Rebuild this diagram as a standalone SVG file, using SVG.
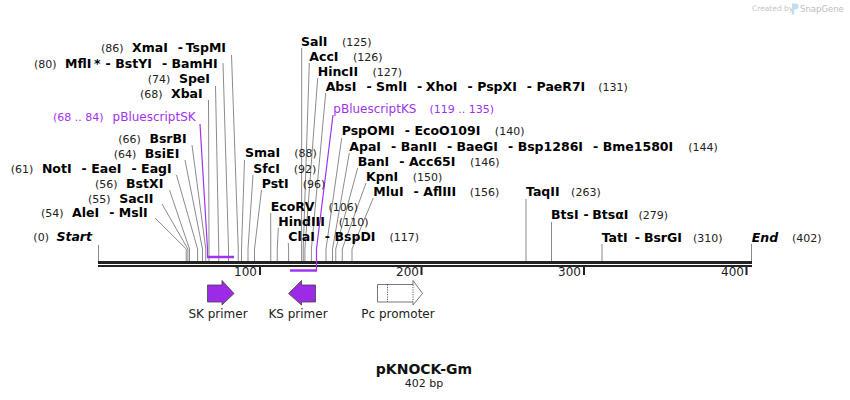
<svg xmlns="http://www.w3.org/2000/svg" width="850" height="400" viewBox="0 0 850 400">
<style>
text{font-family:"DejaVu Sans",Verdana,sans-serif;}
.b{font-weight:bold;font-size:12.5px;fill:#000;}
.n{font-size:11px;fill:#222;}
.i{font-weight:bold;font-style:italic;font-size:12.5px;fill:#000;}
.p{font-size:12px;fill:#a033f0;}
.pn{font-size:11px;fill:#a033f0;}
.t{font-size:12px;fill:#222;}
.cut{fill:none;stroke:#8c8c8c;stroke-width:1;}
.pl{fill:none;stroke:#a033f0;stroke-width:1.2;}
.bar{stroke:#a033f0;stroke-width:2.5;}
.prim{fill:#9c2ae6;stroke:#444;stroke-width:0.8;}
</style>
<rect width="850" height="400" fill="#fff"/>
<g id="watermark">
<text x="752" y="10.5" style="font-size:7.5px;fill:#c4c4c4">Created by</text>
<path d="M792 3.5h3.5a3 3 0 0 1 0 6h-1.3v5h-2.2z" fill="#bfdcf2"/>
<text x="800" y="12" style="font-size:8.5px;fill:#bdbdbd">SnapGene</text>
</g>
<g id="axis">
<line x1="98" y1="262.5" x2="752" y2="262.5" stroke="#222" stroke-width="3"/>
<line x1="98" y1="266" x2="752" y2="266" stroke="#222" stroke-width="2"/>
<g stroke="#222" stroke-width="2">
<line x1="260" y1="266" x2="260" y2="275"/>
<line x1="421.5" y1="266" x2="421.5" y2="275"/>
<line x1="584" y1="266" x2="584" y2="275"/>
<line x1="746.5" y1="266" x2="746.5" y2="275"/>
</g>
<g class="t" text-anchor="end">
<text x="257" y="276">100</text>
<text x="419" y="276">200</text>
<text x="581" y="276">300</text>
<text x="744" y="276">400</text>
</g>
</g>
<g id="connectors">
<path class="cut" d="M231.5 55L238.25 249V261"/>
<path class="cut" d="M223 63L228.5 249V261"/>
<path class="cut" d="M215.5 86L218.75 249V261"/>
<path class="cut" d="M208.5 100L209 249V261"/>
<path class="cut" d="M192 145L205.75 249V261"/>
<path class="cut" d="M185 160L202.5 249V261"/>
<path class="cut" d="M176.5 175L197.6 249V261"/>
<path class="cut" d="M169.5 190L189.5 249V261"/>
<path class="cut" d="M162 204L187.9 249V261"/>
<path class="cut" d="M155 218L186.25 249V261"/>
<path class="cut" d="M98.5 245V261"/>
<path class="cut" d="M244.5 160L241.5 249V261"/>
<path class="cut" d="M253 175L248 249V261"/>
<path class="cut" d="M261.5 190L254.5 249V261"/>
<path class="cut" d="M270.7 213L270.75 249V261"/>
<path class="cut" d="M278.3 228L277.25 249V261"/>
<path class="cut" d="M288.3 243L288.6 249V261"/>
<path class="cut" d="M301.7 48L301.6 249V261"/>
<path class="cut" d="M309.3 63L303.25 249V261"/>
<path class="cut" d="M317.7 78L304.9 249V261"/>
<path class="cut" d="M325.7 93L311.4 249V261"/>
<path class="cut" d="M341.7 138L326 249V261"/>
<path class="cut" d="M349.3 153L332.5 249V261"/>
<path class="cut" d="M357.7 168L335.75 249V261"/>
<path class="cut" d="M366 183L342.25 249V261"/>
<path class="cut" d="M373.3 198L352 249V261"/>
<path class="cut" d="M526 199V261"/>
<path class="cut" d="M551.5 222V261"/>
<path class="cut" d="M602 244V261"/>
<path class="cut" d="M751.5 244V261"/>
<path class="pl" d="M200 124L207.5 249V257"/>
<path class="pl" d="M333 115L316.5 249V271"/>
<line class="bar" x1="207" y1="257" x2="234" y2="257"/>
<line class="bar" x1="290" y1="270.5" x2="317" y2="270.5"/>
</g>
<g id="left-labels" text-anchor="end">
<text x="226" y="52"><tspan class="n">(86)</tspan><tspan class="b" dx="8.5">XmaI</tspan><tspan class="b" dx="10">-</tspan><tspan class="b" dx="4.5">TspMI</tspan></text>
<text x="217.7" y="67.5"><tspan class="n">(80)</tspan><tspan class="b" dx="8.5">MflI</tspan><tspan class="b" dx="2.5">*</tspan><tspan class="b" dx="5">-</tspan><tspan class="b" dx="4.5">BstYI</tspan><tspan class="b" dx="10">-</tspan><tspan class="b" dx="4.5">BamHI</tspan></text>
<text x="210" y="82.8"><tspan class="n">(74)</tspan><tspan class="b" dx="8.5">SpeI</tspan></text>
<text x="202.7" y="97.8"><tspan class="n">(68)</tspan><tspan class="b" dx="8.5">XbaI</tspan></text>
<text x="195.7" y="121"><tspan class="pn">(68 .. 84)</tspan><tspan class="p" dx="9">pBluescriptSK</tspan></text>
<text x="186.7" y="142.7"><tspan class="n">(66)</tspan><tspan class="b" dx="8.5">BsrBI</tspan></text>
<text x="179.3" y="157.7"><tspan class="n">(64)</tspan><tspan class="b" dx="8.5">BsiEI</tspan></text>
<text x="171.7" y="172.7"><tspan class="n">(61)</tspan><tspan class="b" dx="8.5">NotI</tspan><tspan class="b" dx="10">-</tspan><tspan class="b" dx="4.5">EaeI</tspan><tspan class="b" dx="10">-</tspan><tspan class="b" dx="4.5">EagI</tspan></text>
<text x="163.3" y="187.7"><tspan class="n">(56)</tspan><tspan class="b" dx="8.5">BstXI</tspan></text>
<text x="153.3" y="202.7"><tspan class="n">(55)</tspan><tspan class="b" dx="8.5">SacII</tspan></text>
<text x="147.7" y="217.3"><tspan class="n">(54)</tspan><tspan class="b" dx="8.5">AleI</tspan><tspan class="b" dx="10">-</tspan><tspan class="b" dx="4.5">MslI</tspan></text>
<text x="92" y="240.5"><tspan class="n">(0)</tspan><tspan class="i" dx="7.5">Start</tspan></text>
</g>
<g id="middle-labels">
<text x="245" y="157.3"><tspan class="b">SmaI</tspan><tspan class="n" dx="14">(88)</tspan></text>
<text x="253.3" y="172.7"><tspan class="b">SfcI</tspan><tspan class="n" dx="14">(92)</tspan></text>
<text x="261.7" y="187.7"><tspan class="b">PstI</tspan><tspan class="n" dx="14">(96)</tspan></text>
<text x="270.7" y="211"><tspan class="b">EcoRV</tspan><tspan class="n" dx="14">(106)</tspan></text>
<text x="278.3" y="226"><tspan class="b">HindIII</tspan><tspan class="n" dx="14">(110)</tspan></text>
<text x="288.3" y="241"><tspan class="b">ClaI</tspan><tspan class="b" dx="10">-</tspan><tspan class="b" dx="4.5">BspDI</tspan><tspan class="n" dx="14">(117)</tspan></text>
<text x="301" y="45.7"><tspan class="b">SalI</tspan><tspan class="n" dx="14.5">(125)</tspan></text>
<text x="309.3" y="60.7"><tspan class="b">AccI</tspan><tspan class="n" dx="14.5">(126)</tspan></text>
<text x="317.7" y="75.7"><tspan class="b">HincII</tspan><tspan class="n" dx="14.5">(127)</tspan></text>
<text x="325.7" y="90.5"><tspan class="b">AbsI</tspan><tspan class="b" dx="10">-</tspan><tspan class="b" dx="4.5">SmlI</tspan><tspan class="b" dx="10">-</tspan><tspan class="b" dx="4.5">XhoI</tspan><tspan class="b" dx="10">-</tspan><tspan class="b" dx="4.5">PspXI</tspan><tspan class="b" dx="10">-</tspan><tspan class="b" dx="4.5">PaeR7I</tspan><tspan class="n" dx="13">(131)</tspan></text>
<text x="333.3" y="112.7"><tspan class="p">pBluescriptKS</tspan><tspan class="pn" dx="13">(119 .. 135)</tspan></text>
<text x="341.7" y="135"><tspan class="b">PspOMI</tspan><tspan class="b" dx="10">-</tspan><tspan class="b" dx="4.5">EcoO109I</tspan><tspan class="n" dx="14.5">(140)</tspan></text>
<text x="349.3" y="150.7"><tspan class="b">ApaI</tspan><tspan class="b" dx="10">-</tspan><tspan class="b" dx="4.5">BanII</tspan><tspan class="b" dx="10">-</tspan><tspan class="b" dx="4.5">BaeGI</tspan><tspan class="b" dx="10">-</tspan><tspan class="b" dx="4.5">Bsp1286I</tspan><tspan class="b" dx="10">-</tspan><tspan class="b" dx="4.5">Bme1580I</tspan><tspan class="n" dx="15">(144)</tspan></text>
<text x="357.7" y="165.7"><tspan class="b">BanI</tspan><tspan class="b" dx="10">-</tspan><tspan class="b" dx="4.5">Acc65I</tspan><tspan class="n" dx="14.5">(146)</tspan></text>
<text x="366" y="181"><tspan class="b">KpnI</tspan><tspan class="n" dx="14.5">(150)</tspan></text>
<text x="373.3" y="196"><tspan class="b">MluI</tspan><tspan class="b" dx="10">-</tspan><tspan class="b" dx="4.5">AflIII</tspan><tspan class="n" dx="13.5">(156)</tspan></text>
</g>
<g id="right-labels">
<text x="526" y="196"><tspan class="b">TaqII</tspan><tspan class="n" dx="11.5">(263)</tspan></text>
<text x="551" y="219.3"><tspan class="b">BtsI</tspan><tspan class="b" dx="5">-</tspan><tspan class="b" dx="3.5">BtsαI</tspan><tspan class="n" dx="10">(279)</tspan></text>
<text x="601.7" y="241.5"><tspan class="b">TatI</tspan><tspan class="b" dx="7">-</tspan><tspan class="b" dx="4">BsrGI</tspan><tspan class="n" dx="11">(310)</tspan></text>
<text x="751.7" y="241.5"><tspan class="i">End</tspan><tspan class="n" dx="14">(402)</tspan></text>
</g>
<g id="sk-primer">
<polygon class="prim" points="207.5,285 222,285 222,280.5 234,293.5 222,305 222,302 207.5,302"/>
<text class="t" x="218" y="318" text-anchor="middle">SK primer</text>
</g>
<g id="ks-primer">
<polygon class="prim" points="315.5,285 301.5,285 301.5,280.5 288.5,293.5 301.5,305 301.5,302 315.5,302"/>
<text class="t" x="298" y="318" text-anchor="middle">KS primer</text>
</g>
<g id="pc-promoter">
<polygon points="377.5,284.5 413,284.5 413,280.5 422.5,293.5 413,305 413,302 377.5,302" fill="#fff" stroke="#777" stroke-width="1"/>
<line x1="387.5" y1="284.5" x2="387.5" y2="302" stroke="#333" stroke-width="0.8" stroke-dasharray="1.2,1.2"/>
<line x1="413" y1="284.5" x2="413" y2="302" stroke="#333" stroke-width="0.8" stroke-dasharray="1.2,1.2"/>
<text class="t" x="398" y="318" text-anchor="middle">Pc promoter</text>
</g>
<g id="title">
<text x="424" y="374" text-anchor="middle" style="font-weight:bold;font-size:14px;fill:#111">pKNOCK-Gm</text>
<text x="424" y="387" text-anchor="middle" style="font-size:11px;fill:#222">402 bp</text>
</g>
</svg>
